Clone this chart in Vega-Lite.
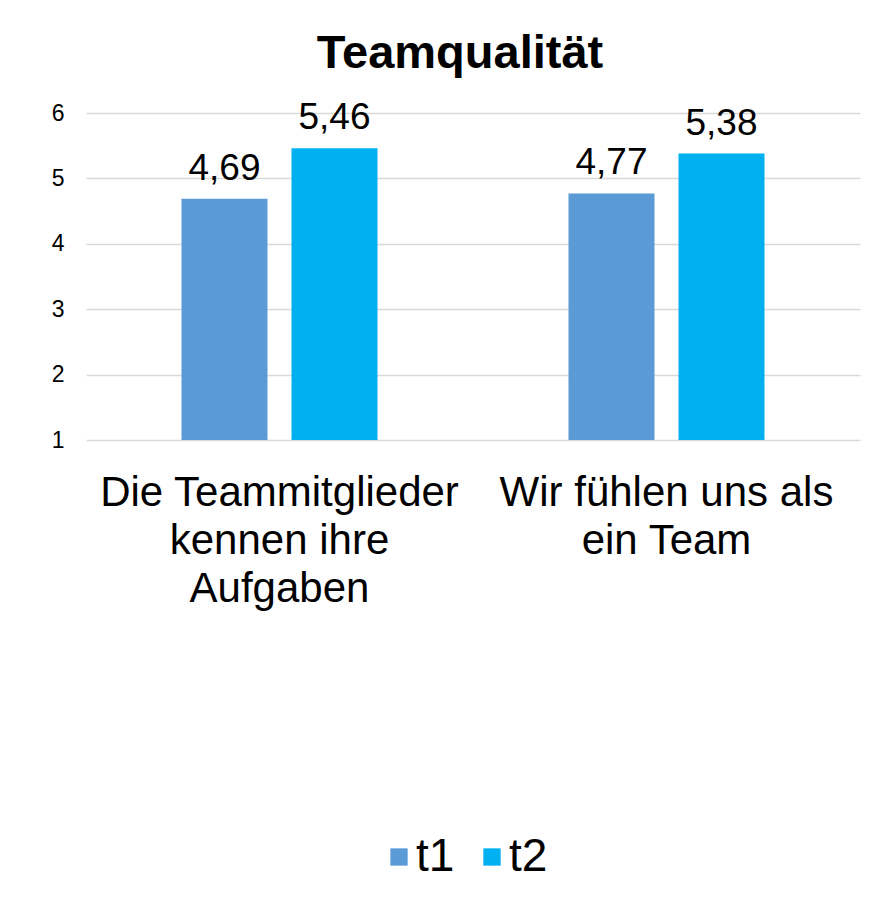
{
  "$schema": "https://vega.github.io/schema/vega-lite/v6.json",
  "width": 774,
  "height": 327,
  "autosize": "none",
  "padding": {"left": 86, "top": 113, "right": 29, "bottom": 457},
  "background": "white",
  "config": {
    "font": "Liberation Sans",
    "view": {"stroke": null},
    "locale": {"number": {"decimal": ",", "thousands": ".", "grouping": [3], "currency": ["", " €"]}}
  },
  "title": {
    "text": "Teamqualität",
    "fontSize": 47,
    "fontWeight": "bold",
    "color": "black",
    "anchor": "middle",
    "offset": 21,
    "dx": -13
  },
  "data": {
    "values": [
      {"item": "Die Teammitglieder kennen ihre Aufgaben", "zeit": "t1", "wert": 4.69},
      {"item": "Die Teammitglieder kennen ihre Aufgaben", "zeit": "t2", "wert": 5.46},
      {"item": "Wir fühlen uns als ein Team", "zeit": "t1", "wert": 4.77},
      {"item": "Wir fühlen uns als ein Team", "zeit": "t2", "wert": 5.38}
    ]
  },
  "encoding": {
    "x": {
      "field": "item",
      "type": "nominal",
      "sort": null,
      "scale": {"paddingInner": 0, "paddingOuter": 0},
      "axis": {
        "title": null,
        "labelAngle": 0,
        "domain": false,
        "ticks": false,
        "labelFontSize": 42,
        "labelColor": "black",
        "labelLineHeight": 48,
        "labelBaseline": "alphabetic",
        "labelPadding": 65,
        "labelLimit": 0,
        "labelExpr": "datum.value == 'Die Teammitglieder kennen ihre Aufgaben' ? ['Die Teammitglieder', 'kennen ihre', 'Aufgaben'] : ['Wir fühlen uns als', 'ein Team']"
      }
    },
    "xOffset": {
      "field": "zeit",
      "type": "nominal",
      "scale": {"paddingInner": 0.218, "paddingOuter": 0.868}
    },
    "y": {
      "field": "wert",
      "type": "quantitative",
      "scale": {"domain": [1, 6], "nice": false, "zero": false},
      "axis": {
        "title": null,
        "values": [1, 2, 3, 4, 5, 6],
        "format": "d",
        "domain": false,
        "ticks": false,
        "labelFontSize": 23,
        "labelColor": "black",
        "labelPadding": 22,
        "gridColor": "#d9d9d9",
        "gridWidth": 1.5
      }
    }
  },
  "layer": [
    {
      "mark": {"type": "bar"},
      "encoding": {
        "y2": {"datum": 1},
        "color": {
          "field": "zeit",
          "type": "nominal",
          "scale": {"domain": ["t1", "t2"], "range": ["#5B9BD5", "#00B0F0"]},
          "legend": {
            "title": null,
            "orient": "none",
            "direction": "horizontal",
            "legendX": 290,
            "legendY": 721,
            "symbolType": "square",
            "symbolSize": 300,
            "symbolStrokeWidth": 0,
            "symbolOpacity": 1,
            "labelFontSize": 46,
            "labelColor": "black",
            "labelOffset": -6,
            "columnPadding": 14,
            "symbolOffset": 0
          }
        }
      }
    },
    {
      "mark": {"type": "text", "fontSize": 37, "baseline": "alphabetic", "dy": -19, "color": "black"},
      "encoding": {
        "text": {"field": "wert", "type": "quantitative", "format": ".2f"}
      }
    }
  ]
}
